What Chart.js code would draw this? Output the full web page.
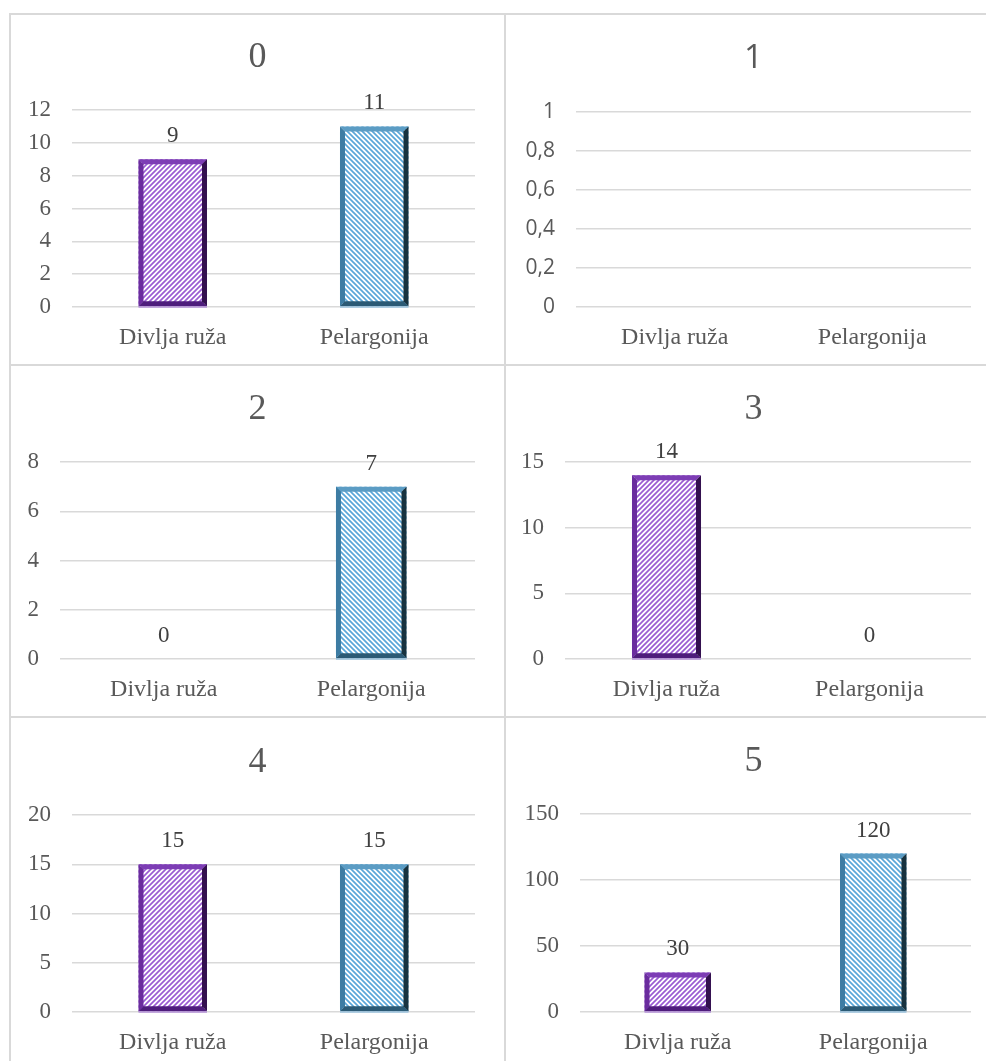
<!DOCTYPE html>
<html lang="hr">
<head>
  <meta charset="UTF-8" />
  <title>Divlja ruža / Pelargonija</title>
  <script src="https://cdn.jsdelivr.net/npm/chart.js"></script>
  <style>
    body { margin: 0; background: #fff; }
    #wrap { position: relative; width: 986px; height: 1061px; overflow: hidden; }
    .line { position: absolute; background: #d9d9d9; }
    .cell { position: absolute; }
  </style>
</head>
<body>
  <div id="wrap">
    <div class="line" style="left:9px;top:13px;width:977px;height:2px"></div>
    <div class="line" style="left:9px;top:364px;width:977px;height:2px"></div>
    <div class="line" style="left:9px;top:716px;width:977px;height:2px"></div>
    <div class="line" style="left:9px;top:13px;width:2px;height:1048px"></div>
    <div class="line" style="left:504px;top:13px;width:2px;height:1048px"></div>
  </div>

  <script>
    // podaci
    const categories = ['Divlja ruža', 'Pelargonija'];
    const titles = ['0', '1', '2', '3', '4', '5'];
    const divljaRuza = [9, null, 0, 14, 15, 30];
    const pelargonija = [11, null, 7, 0, 15, 120];
    const yMax = [12, 1, 8, 15, 20, 150];
    const yStep = [2, 0.2, 2, 5, 5, 50];

    // raspored ćelija: canvas pozicija i područje crtanja (relativno)
    const cells = [
      { x: 11,  y: 15,  h: 349, L: 61, T: 95, B: 292, ty: 43, sans: false },
      { x: 507, y: 15,  h: 349, L: 69, T: 97, B: 292, ty: 44, sans: true },
      { x: 11,  y: 367, h: 349, L: 49, T: 95, B: 292, ty: 43, sans: false },
      { x: 507, y: 367, h: 349, L: 58, T: 95, B: 292, ty: 43, sans: false },
      { x: 11,  y: 719, h: 342, L: 61, T: 96, B: 293, ty: 44, sans: false },
      { x: 507, y: 719, h: 342, L: 73, T: 95, B: 293, ty: 43, sans: false }
    ];
    const W = 493, RIGHT = 29;

    const SERIF = '"Liberation Serif", "Times New Roman", serif';
    const SANS = '"Open Sans", "Noto Sans", sans-serif';
    const GREY = '#595959';

    function makeStripes(color, up) {
      const s = 5;
      const c = document.createElement('canvas');
      c.width = s; c.height = s;
      const g = c.getContext('2d');
      g.fillStyle = '#fff';
      g.fillRect(0, 0, s, s);
      g.strokeStyle = color;
      g.lineWidth = 1.7;
      g.beginPath();
      if (up) {
        g.moveTo(-1, s + 1); g.lineTo(s + 1, -1);
        g.moveTo(-1, 1); g.lineTo(1, -1);
        g.moveTo(s - 1, s + 1); g.lineTo(s + 1, s - 1);
      } else {
        g.moveTo(-1, -1); g.lineTo(s + 1, s + 1);
        g.moveTo(-1, s - 1); g.lineTo(1, s + 1);
        g.moveTo(s - 1, -1); g.lineTo(s + 1, 1);
      }
      g.stroke();
      return g.createPattern(c, 'repeat');
    }

    const bevels = [
      { top: '#7d3db5', left: '#6a2c9e', right: '#33104f', bottom: '#4e1d7c', under: '#b592d8' },
      { top: '#5b9cc4', left: '#3d7ca3', right: '#17323f', bottom: '#2b5a75', under: '#9cc3de' }
    ];

    const barDecor = {
      id: 'barDecor',
      afterDatasetsDraw(chart) {
        const ctx = chart.ctx;
        const meta = chart.getDatasetMeta(0);
        const vals = chart.data.datasets[0].data;
        meta.data.forEach((bar, i) => {
          const v = vals[i];
          if (v === null || v === undefined) return;
          const p = bar.getProps(['x', 'y', 'base', 'width'], true);
          const l = p.x - p.width / 2, r = p.x + p.width / 2, t = p.y, b = p.base;
          ctx.save();
          if (v > 0) {
            const c = bevels[i];
            const k = 5;
            const quad = (pts, col) => {
              ctx.fillStyle = col;
              ctx.beginPath();
              ctx.moveTo(pts[0], pts[1]);
              for (let j = 2; j < pts.length; j += 2) ctx.lineTo(pts[j], pts[j + 1]);
              ctx.closePath();
              ctx.fill();
            };
            quad([l, t, r, t, r - k, t + k, l + k, t + k], c.top);
            quad([l, t, l + k, t + k, l + k, b - k, l, b], c.left);
            quad([l, b, r, b, r - k, b - k, l + k, b - k], c.bottom);
            quad([r, t, r, b, r - k, b - k, r - k, t + k], c.right);
            ctx.fillStyle = c.under;
            ctx.fillRect(l, b, r - l, 1.5);
          }
          ctx.fillStyle = '#404040';
          ctx.font = '23px ' + SERIF;
          ctx.textAlign = 'center';
          ctx.textBaseline = 'middle';
          ctx.fillText(String(v), p.x, t - 23);
          ctx.restore();
        });
      }
    };

    function fmt(v) {
      if (Number.isInteger(v)) return String(v);
      return v.toFixed(1).replace('.', ',');
    }

    const wrap = document.getElementById('wrap');
    cells.forEach((cell, i) => {
      const div = document.createElement('div');
      div.className = 'cell';
      div.style.left = cell.x + 'px';
      div.style.top = cell.y + 'px';
      div.style.width = W + 'px';
      div.style.height = cell.h + 'px';
      const canvas = document.createElement('canvas');
      canvas.width = W;
      canvas.height = cell.h;
      div.appendChild(canvas);
      wrap.appendChild(div);

      const ctx = canvas.getContext('2d');
      const titleSize = cell.sans ? 33 : 36;
      const lh = titleSize * 1.2;
      const padTop = cell.ty - lh / 2;
      const padBottom = cell.T - padTop - lh;

      new Chart(ctx, {
        type: 'bar',
        data: {
          labels: categories,
          datasets: [{
            data: [divljaRuza[i], pelargonija[i]],
            backgroundColor: [makeStripes('#9a5bd2', true), makeStripes('#5aa6d8', false)],
            borderWidth: 0,
            barPercentage: 0.34,
            categoryPercentage: 1
          }]
        },
        options: {
          responsive: false,
          animation: false,
          layout: { padding: 0 },
          plugins: {
            legend: { display: false },
            tooltip: { enabled: false },
            title: {
              display: true,
              text: titles[i],
              color: GREY,
              font: { family: cell.sans ? SANS : SERIF, size: titleSize, weight: 'normal', lineHeight: 1.2 },
              padding: { top: padTop, bottom: padBottom }
            }
          },
          scales: {
            x: {
              grid: { display: false },
              border: { display: false },
              ticks: { color: GREY, font: { family: SERIF, size: 24 }, padding: 8 },
              afterFit(scale) { scale.height = cell.h - cell.B; }
            },
            y: {
              min: 0,
              max: yMax[i],
              grid: { color: '#d9d9d9', lineWidth: 1.5, drawTicks: false },
              border: { display: false },
              ticks: {
                stepSize: yStep[i],
                color: GREY,
                padding: 21,
                font: { family: cell.sans ? SANS : SERIF, size: cell.sans ? 21 : 23 },
                callback: (v) => fmt(v)
              },
              afterFit(scale) { scale.width = cell.L; }
            },
            // prazna desna os samo kao razmak desno od područja crtanja
            yr: {
              position: 'right',
              display: true,
              grid: { display: false },
              border: { display: false },
              ticks: { display: false },
              afterFit(scale) { scale.width = RIGHT; }
            }
          }
        },
        plugins: [barDecor]
      });
    });
  </script>
</body>
</html>
